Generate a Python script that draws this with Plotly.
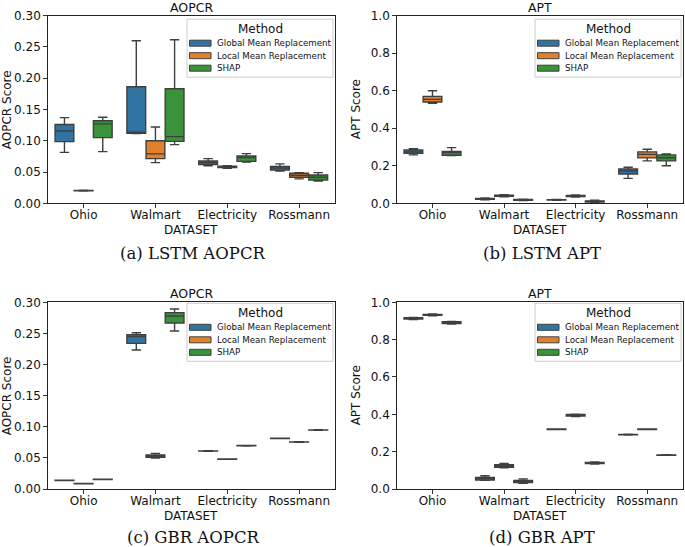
import plotly.graph_objects as go

W, H = 685, 547

datasets = ["Ohio", "Walmart", "Electricity", "Rossmann"]
methods = ["Global Mean Replacement", "Local Mean Replacement", "SHAP"]
fill_colors = ["#3274a1", "#e1812c", "#3a923a"]
edge_color = "#3f3f3f"

# ---- (a) LSTM AOPCR ----
a_lo  = [[0.0815, 0.1115, 0.0600, 0.0517], [0.0195, 0.0650, 0.0560, 0.0390], [0.0826, 0.0938, 0.0660, 0.0357]]
a_q1  = [[0.0986, 0.1120, 0.0620, 0.0530], [0.0198, 0.0714, 0.0570, 0.0416], [0.1050, 0.0990, 0.0670, 0.0373]]
a_med = [[0.1156, 0.1135, 0.0650, 0.0565], [0.0202, 0.0790, 0.0580, 0.0448], [0.1270, 0.1066, 0.0730, 0.0416]]
a_q3  = [[0.1260, 0.1865, 0.0677, 0.0590], [0.0207, 0.1000, 0.0592, 0.0480], [0.1320, 0.1833, 0.0757, 0.0453]]
a_hi  = [[0.1370, 0.2600, 0.0714, 0.0630], [0.0210, 0.1220, 0.0600, 0.0490], [0.1375, 0.2616, 0.0794, 0.0490]]

# ---- (b) LSTM APT ----
b_lo  = [[0.258, 0.018, 0.016, 0.133], [0.533, 0.034, 0.033, 0.226], [0.254, 0.014, 0.004, 0.200]]
b_q1  = [[0.266, 0.021, 0.017, 0.156], [0.540, 0.037, 0.036, 0.242], [0.256, 0.016, 0.007, 0.226]]
b_med = [[0.274, 0.023, 0.018, 0.172], [0.554, 0.040, 0.039, 0.261], [0.270, 0.018, 0.010, 0.243]]
b_q3  = [[0.284, 0.026, 0.019, 0.183], [0.570, 0.043, 0.042, 0.274], [0.277, 0.020, 0.013, 0.258]]
b_hi  = [[0.291, 0.028, 0.020, 0.192], [0.600, 0.046, 0.045, 0.288], [0.297, 0.022, 0.016, 0.263]]

# ---- (c) GBR AOPCR ----
c_lo  = [[0.0135, 0.2234, 0.0606, 0.0810], [0.0082, 0.0498, 0.0476, 0.0751], [0.0151, 0.2539, 0.0692, 0.0944]]
c_q1  = [[0.0137, 0.2340, 0.0608, 0.0812], [0.0084, 0.0510, 0.0478, 0.0753], [0.0153, 0.2668, 0.0694, 0.0946]]
c_med = [[0.0139, 0.2450, 0.0610, 0.0814], [0.0086, 0.0530, 0.0480, 0.0755], [0.0155, 0.2780, 0.0696, 0.0948]]
c_q3  = [[0.0141, 0.2480, 0.0612, 0.0816], [0.0088, 0.0546, 0.0482, 0.0757], [0.0157, 0.2834, 0.0698, 0.0950]]
c_hi  = [[0.0143, 0.2510, 0.0614, 0.0818], [0.0090, 0.0573, 0.0484, 0.0759], [0.0159, 0.2893, 0.0700, 0.0952]]

# ---- (d) GBR APT ----
d_lo  = [[0.908, 0.046, 0.318, 0.289], [0.928, 0.114, 0.388, 0.318], [0.884, 0.030, 0.133, 0.180]]
d_q1  = [[0.910, 0.048, 0.319, 0.290], [0.930, 0.116, 0.391, 0.319], [0.886, 0.034, 0.136, 0.181]]
d_med = [[0.914, 0.057, 0.320, 0.291], [0.932, 0.123, 0.395, 0.320], [0.891, 0.039, 0.139, 0.182]]
d_q3  = [[0.917, 0.0625, 0.321, 0.292], [0.935, 0.130, 0.399, 0.321], [0.896, 0.046, 0.142, 0.183]]
d_hi  = [[0.919, 0.071, 0.322, 0.293], [0.937, 0.1375, 0.401, 0.322], [0.898, 0.054, 0.145, 0.184]]

panel_titles = ["AOPCR", "APT", "AOPCR", "APT"]
y_labels = ["AOPCR Score", "APT Score", "AOPCR Score", "APT Score"]
captions = ["(a) LSTM AOPCR", "(b) LSTM APT", "(c) GBR AOPCR", "(d) GBR APT"]
legend_title = "Method"
aopcr_ticks = [0.00, 0.05, 0.10, 0.15, 0.20, 0.25, 0.30]
apt_ticks = [0.0, 0.2, 0.4, 0.6, 0.8, 1.0]

panels = [
    (a_lo, a_q1, a_med, a_q3, a_hi),
    (b_lo, b_q1, b_med, b_q3, b_hi),
    (c_lo, c_q1, c_med, c_q3, c_hi),
    (d_lo, d_q1, d_med, d_q3, d_hi),
]

# pixel geometry of plot areas: (left, right, top, bottom)
boxes_px = [(47.7, 335, 15.7, 203.3), (396.7, 683, 15.7, 203.3),
            (47.7, 335, 302.3, 489), (396.7, 683, 302.3, 489)]
legend_top_off = [3.5, 3.5, 1.0, 1.0]
caption_off = [50, 50, 48, 48]


def px_x(p):
    return p / W


def px_y(p):
    return 1 - p / H


fig = go.Figure()
font_fam = "DejaVu Sans"
annotations = []
shapes = []
layout_axes = {}

for i, (lo, q1, med, q3, hi) in enumerate(panels):
    sfx = "" if i == 0 else str(i + 1)
    xa, ya = "x" + sfx, "y" + sfx
    for m in range(3):
        fig.add_trace(go.Box(
            x=datasets, lowerfence=lo[m], q1=q1[m], median=med[m], q3=q3[m], upperfence=hi[m],
            name=methods[m], fillcolor=fill_colors[m], marker_color=fill_colors[m],
            line=dict(color=edge_color, width=1.4), boxpoints=False, whiskerwidth=0.5,
            xaxis=xa, yaxis=ya, showlegend=False, hoverinfo="skip",
            alignmentgroup="panel%d" % i, offsetgroup=methods[m],
        ))
    l, r, t, b = boxes_px[i]
    is_apt = i in (1, 3)
    ticks = apt_ticks if is_apt else aopcr_ticks
    layout_axes["xaxis" + sfx] = dict(
        domain=[px_x(l), px_x(r)], anchor=ya, type="category", range=[-0.5, 3.5],
        showline=True, mirror=True, linecolor="#222", linewidth=1, automargin=False,
        ticks="outside", ticklen=3.5, tickcolor="#333", showgrid=False, zeroline=False,
        ticklabelstandoff=-3,
        tickfont=dict(family=font_fam, size=12, color="#111"),
    )
    layout_axes["yaxis" + sfx] = dict(
        domain=[px_y(b), px_y(t)], anchor=xa, range=[0, ticks[-1]],
        tickvals=ticks, ticktext=[("%.1f" if is_apt else "%.2f") % v for v in ticks],
        showline=True, mirror=True, linecolor="#222", linewidth=1, automargin=False,
        ticks="outside", ticklen=3.5, tickcolor="#333", showgrid=False, zeroline=False,
        tickfont=dict(family=font_fam, size=12, color="#111"),
    )
    cx = (l + r) / 2
    annotations.append(dict(text=panel_titles[i], x=px_x(cx), y=px_y(t - 8.5), xref="paper", yref="paper",
                            xanchor="center", yanchor="middle", showarrow=False,
                            font=dict(family=font_fam, size=12.5, color="#111")))
    annotations.append(dict(text="DATASET", x=px_x(cx), y=px_y(b + 27), xref="paper", yref="paper",
                            xanchor="center", yanchor="middle", showarrow=False,
                            font=dict(family=font_fam, size=12, color="#111")))
    annotations.append(dict(text=y_labels[i], x=px_x(l - 41), y=px_y((t + b) / 2), xref="paper", yref="paper",
                            xanchor="center", yanchor="middle", textangle=-90, showarrow=False,
                            font=dict(family=font_fam, size=12, color="#111")))
    annotations.append(dict(text=captions[i], x=px_x(cx + 2), y=px_y(b + caption_off[i]), xref="paper",
                            yref="paper", xanchor="center", yanchor="middle", showarrow=False,
                            font=dict(family="DejaVu Serif", size=16.5, color="#111")))

    # legend (matplotlib-style, upper right inside the axes)
    lg_r = r - 2
    lg_l = lg_r - 146
    lg_t = t + legend_top_off[i]
    lg_b = lg_t + 58
    shapes.append(dict(type="rect", xref="paper", yref="paper",
                       x0=px_x(lg_l), x1=px_x(lg_r), y0=px_y(lg_b), y1=px_y(lg_t),
                       fillcolor="rgba(255,255,255,0.85)", line=dict(color="#cccccc", width=1), layer="above"))
    annotations.append(dict(text=legend_title, x=px_x((lg_l + lg_r) / 2), y=px_y(lg_t + 10), xref="paper",
                            yref="paper", xanchor="center", yanchor="middle", showarrow=False,
                            font=dict(family=font_fam, size=12, color="#111")))
    for m in range(3):
        ry = lg_t + 24 + 12.5 * m
        shapes.append(dict(type="rect", xref="paper", yref="paper",
                           x0=px_x(lg_l + 2.5), x1=px_x(lg_l + 24), y0=px_y(ry + 3), y1=px_y(ry - 3),
                           fillcolor=fill_colors[m], line=dict(color=edge_color, width=1), layer="above"))
        annotations.append(dict(text=methods[m], x=px_x(lg_l + 28), y=px_y(ry), xref="paper", yref="paper",
                                xanchor="left", yanchor="middle", showarrow=False,
                                font=dict(family=font_fam, size=8.7, color="#111")))

fig.update_layout(
    width=W, height=H, margin=dict(l=0, r=0, t=0, b=0, pad=0, autoexpand=False),
    paper_bgcolor="white", plot_bgcolor="white",
    boxmode="group", boxgap=0.2, boxgroupgap=0.02, showlegend=False,
    annotations=annotations, shapes=shapes, **layout_axes,
)

fig.write_html("out.html", config={"displayModeBar": False},
               post_script="document.body.style.margin='0';")
